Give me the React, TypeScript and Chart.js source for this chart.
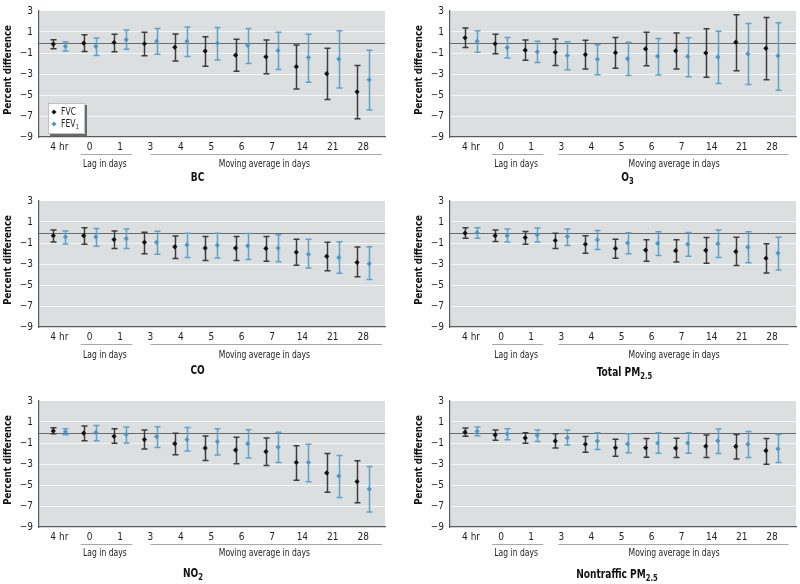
import React, { useEffect, useRef } from "react";
import { Chart, registerables } from "chart.js";
Chart.register(...registerables);

const categories = ["4 hr", "0", "1", "3", "4", "5", "6", "7", "14", "21", "28"];
const yTickValues = [3, 1, -1, -3, -5, -7, -9];
const lagLabel = "Lag in days";
const movingLabel = "Moving average in days";
const yTitle = "Percent difference";
const legendNames = ["FVC", "FEV"];
const legendSub = ["", "1"];

// BC
const bcFvc = [-0.15, -0.06, 0, -0.12, -0.45, -0.82, -1.21, -1.36, -2.3, -2.97, -4.7];
const bcFvcLo = [-0.6, -0.85, -0.88, -1.27, -1.76, -2.27, -2.73, -2.97, -4.42, -5.42, -7.27];
const bcFvcHi = [0.27, 0.73, 0.79, 0.97, 0.82, 0.55, 0.3, 0.24, -0.24, -0.55, -2.18];
const bcFev = [-0.36, -0.36, 0.27, 0.12, 0.12, -0.06, -0.27, -0.76, -1.42, -1.58, -3.55];
const bcFevLo = [-0.82, -1.24, -0.64, -1.12, -1.33, -1.67, -2.0, -2.58, -3.79, -4.33, -6.42];
const bcFevHi = [0.06, 0.42, 1.18, 1.33, 1.48, 1.42, 1.33, 0.97, 0.79, 1.12, -0.73];

// O3
const o3Fvc = [0.45, -0.12, -0.73, -0.94, -1.15, -0.97, -0.61, -0.79, -1.0, 0.03, -0.55];
const o3FvcLo = [-0.48, -1.06, -1.7, -2.18, -2.52, -2.45, -2.21, -2.52, -3.3, -2.7, -3.55];
const o3FvcHi = [1.39, 0.79, 0.24, 0.33, 0.21, 0.48, 0.97, 0.91, 1.3, 2.64, 2.39];
const o3Fev = [0.12, -0.48, -0.88, -1.24, -1.6, -1.55, -1.3, -1.33, -1.39, -1.09, -1.27];
const o3FevLo = [-0.94, -1.48, -1.91, -2.6, -3.06, -3.15, -3.09, -3.27, -3.91, -4.0, -4.55];
const o3FevHi = [1.12, 0.48, 0.12, 0.06, -0.21, 0.03, 0.39, 0.45, 1.06, 1.82, 1.88];

// CO
const coFvc = [-0.3, -0.3, -0.67, -0.94, -1.36, -1.48, -1.48, -1.52, -1.88, -2.27, -2.85];
const coFvcLo = [-0.91, -1.12, -1.52, -2.03, -2.48, -2.67, -2.67, -2.73, -3.12, -3.64, -4.21];
const coFvcHi = [0.24, 0.45, 0.15, 0.03, -0.33, -0.39, -0.39, -0.39, -0.64, -0.94, -1.39];
const coFev = [-0.42, -0.42, -0.58, -0.94, -1.18, -1.21, -1.27, -1.48, -2.06, -2.39, -2.97];
const coFevLo = [-1.09, -1.3, -1.52, -2.06, -2.39, -2.42, -2.58, -2.79, -3.39, -3.88, -4.48];
const coFevHi = [0.15, 0.39, 0.33, 0.12, -0.06, -0.06, -0.09, -0.21, -0.64, -0.88, -1.36];

// Total PM2.5
const pmFvc = [-0.06, -0.3, -0.48, -0.76, -1.12, -1.52, -1.67, -1.73, -1.7, -1.82, -2.45];
const pmFvcLo = [-0.55, -0.85, -1.12, -1.52, -1.97, -2.45, -2.73, -2.82, -2.94, -3.15, -3.85];
const pmFvcHi = [0.45, 0.24, 0.09, -0.06, -0.3, -0.64, -0.7, -0.7, -0.48, -0.45, -1.06];
const pmFev = [0, -0.3, -0.21, -0.39, -0.7, -1.0, -1.03, -1.12, -1.06, -1.39, -1.97];
const pmFevLo = [-0.55, -0.91, -0.91, -1.24, -1.61, -2.03, -2.18, -2.27, -2.39, -2.88, -3.58];
const pmFevHi = [0.45, 0.33, 0.42, 0.33, 0.18, -0.03, 0.06, 0, 0.24, 0.06, -0.45];

// NO2
const no2Fvc = [0.15, -0.06, -0.36, -0.67, -1.06, -1.48, -1.67, -1.82, -2.85, -3.85, -4.67];
const no2FvcLo = [-0.12, -0.79, -1.03, -1.58, -2.12, -2.67, -2.97, -3.15, -4.55, -5.7, -6.7];
const no2FvcHi = [0.45, 0.61, 0.36, 0.24, -0.06, -0.33, -0.45, -0.52, -1.27, -2.0, -2.7];
const no2Fev = [0.06, 0, -0.18, -0.39, -0.67, -0.88, -1.06, -1.39, -2.85, -4.15, -5.39];
const no2FevLo = [-0.21, -0.79, -1.0, -1.42, -1.76, -2.15, -2.42, -2.85, -4.7, -6.18, -7.58];
const no2FevHi = [0.36, 0.67, 0.52, 0.55, 0.48, 0.36, 0.27, 0.03, -1.12, -2.18, -3.24];

// Nontraffic PM2.5
const ntFvc = [0.03, -0.24, -0.52, -0.82, -1.12, -1.45, -1.45, -1.48, -1.3, -1.33, -1.73];
const ntFvcLo = [-0.36, -0.73, -1.03, -1.48, -1.88, -2.27, -2.36, -2.39, -2.39, -2.52, -3.03];
const ntFvcHi = [0.42, 0.24, -0.03, -0.12, -0.39, -0.64, -0.58, -0.55, -0.24, -0.18, -0.58];
const ntFev = [0.12, -0.12, -0.27, -0.52, -0.82, -1.09, -1.0, -1.0, -0.79, -1.12, -1.55];
const ntFevLo = [-0.3, -0.7, -0.85, -1.18, -1.61, -1.94, -1.97, -1.97, -2.0, -2.39, -2.85];
const ntFevHi = [0.52, 0.36, 0.24, 0.24, -0.03, -0.12, -0.03, -0.03, 0.33, 0.09, -0.18];

const FONT = '"Liberation Sans Narrow", "DejaVu Sans Condensed", "Arial Narrow", sans-serif';
const BG = "#dcdfe0";
const BLACK = "#111111";
const BLACK_BAR = "#3c3c3c";
const BLUE = "#4f98c4";
const BLUE_BAR = "#5ea2cb";

type PanelCfg = {
  key: string;
  title: string[];
  fvc: number[]; fvcLo: number[]; fvcHi: number[];
  fev: number[]; fevLo: number[]; fevHi: number[];
  legend: boolean;
  left: number; top: number;
  col: number;
  titleAt: number;
  lineDy: number; groupDy: number; titleDy: number;
};

const panels: PanelCfg[] = [
  { key: "bc", title: ["BC"], fvc: bcFvc, fvcLo: bcFvcLo, fvcHi: bcFvcHi, fev: bcFev, fevLo: bcFevLo, fevHi: bcFevHi, legend: true, left: 0, top: 0, col: 0, titleAt: 4.55, lineDy: 17, groupDy: 27, titleDy: 41 },
  { key: "o3", title: ["O", "3"], fvc: o3Fvc, fvcLo: o3FvcLo, fvcHi: o3FvcHi, fev: o3Fev, fevLo: o3FevLo, fevHi: o3FevHi, legend: false, left: 400, top: 0, col: 1, titleAt: 5.2, lineDy: 17, groupDy: 27, titleDy: 41 },
  { key: "co", title: ["CO"], fvc: coFvc, fvcLo: coFvcLo, fvcHi: coFvcHi, fev: coFev, fevLo: coFevLo, fevHi: coFevHi, legend: false, left: 0, top: 190, col: 0, titleAt: 4.55, lineDy: 17, groupDy: 28, titleDy: 44 },
  { key: "pm", title: ["Total PM", "2.5"], fvc: pmFvc, fvcLo: pmFvcLo, fvcHi: pmFvcHi, fev: pmFev, fevLo: pmFevLo, fevHi: pmFevHi, legend: false, left: 400, top: 190, col: 1, titleAt: 5.1, lineDy: 17, groupDy: 28, titleDy: 46 },
  { key: "no2", title: ["NO", "2"], fvc: no2Fvc, fvcLo: no2FvcLo, fvcHi: no2FvcHi, fev: no2Fev, fevLo: no2FevLo, fevHi: no2FevHi, legend: false, left: 0, top: 390, col: 0, titleAt: 4.4, lineDy: 17, groupDy: 26, titleDy: 47 },
  { key: "nt", title: ["Nontraffic PM", "2.5"], fvc: ntFvc, fvcLo: ntFvcLo, fvcHi: ntFvcHi, fev: ntFev, fevLo: ntFevLo, fevHi: ntFevHi, legend: false, left: 400, top: 390, col: 1, titleAt: 4.85, lineDy: 17, groupDy: 26, titleDy: 48 },
];

const fmtTick = (v: number) => (v < 0 ? "\u2212" + Math.abs(v) : String(v));

function drawDiamond(ctx: CanvasRenderingContext2D, x: number, y: number, r: number, color: string) {
  ctx.beginPath();
  ctx.moveTo(x, y - r);
  ctx.lineTo(x + r, y);
  ctx.lineTo(x, y + r);
  ctx.lineTo(x - r, y);
  ctx.closePath();
  ctx.fillStyle = color;
  ctx.fill();
}

// draws text parts (odd indices are subscripts), horizontally condensed by sx
function drawSubText(
  ctx: CanvasRenderingContext2D,
  parts: string[],
  cx: number,
  cy: number,
  size: number,
  bold: boolean,
  align: "center" | "left",
  sx: number
) {
  const fontOf = (sub: boolean) => `${bold ? "bold " : ""}${sub ? Math.round(size * 0.72) : size}px ${FONT}`;
  const w = (s: string, sub: boolean) => {
    ctx.font = fontOf(sub);
    return ctx.measureText(s).width;
  };
  let total = 0;
  parts.forEach((p, i) => (total += w(p, i % 2 === 1)));
  ctx.save();
  ctx.translate(cx, cy);
  ctx.scale(sx, 1);
  let x = align === "center" ? -total / 2 : 0;
  ctx.textAlign = "left";
  ctx.textBaseline = "middle";
  parts.forEach((p, i) => {
    const sub = i % 2 === 1;
    ctx.font = fontOf(sub);
    const pw = ctx.measureText(p).width;
    ctx.fillText(p, x, sub ? size * 0.32 : 0);
    x += pw;
  });
  ctx.restore();
}

function Panel({ cfg }: { cfg: PanelCfg }) {
  const ref = useRef<HTMLCanvasElement | null>(null);
  useEffect(() => {
    const canvas = ref.current!;
    const xMin = cfg.col === 0 ? -0.67 : -0.7;
    const xMax = cfg.col === 0 ? 10.72 : 10.8;
    const series = [
      { lo: cfg.fvcLo, hi: cfg.fvcHi, off: -0.2, color: BLACK_BAR },
      { lo: cfg.fevLo, hi: cfg.fevHi, off: 0.2, color: BLUE_BAR },
    ];
    const decor = {
      id: "decor" + cfg.key,
      beforeDraw(chart: any) {
        const { ctx, chartArea: a } = chart;
        ctx.save();
        ctx.fillStyle = BG;
        ctx.fillRect(a.left, a.top, a.right - a.left, a.bottom - a.top);
        ctx.restore();
      },
      beforeDatasetsDraw(chart: any) {
        const { ctx, chartArea: a, scales } = chart;
        const xs = scales.x, ys = scales.y;
        ctx.save();
        const y0 = Math.round(ys.getPixelForValue(0)) + 0.5;
        ctx.strokeStyle = "#6a6a6a";
        ctx.lineWidth = 1.2;
        ctx.beginPath();
        ctx.moveTo(a.left, y0);
        ctx.lineTo(a.right, y0);
        ctx.stroke();
        series.forEach((s) => {
          ctx.strokeStyle = s.color;
          ctx.lineWidth = 1.5;
          categories.forEach((_, i) => {
            const px = Math.round(xs.getPixelForValue(i + s.off)) + 0.5;
            const pl = ys.getPixelForValue(s.lo[i]);
            const ph = ys.getPixelForValue(s.hi[i]);
            ctx.beginPath();
            ctx.moveTo(px, pl);
            ctx.lineTo(px, ph);
            ctx.moveTo(px - 3, pl);
            ctx.lineTo(px + 3, pl);
            ctx.moveTo(px - 3, ph);
            ctx.lineTo(px + 3, ph);
            ctx.stroke();
          });
        });
        ctx.restore();
      },
      afterDraw(chart: any) {
        const { ctx, chartArea: a, scales } = chart;
        const xs = scales.x;
        ctx.save();
        // group underlines
        const ly = Math.round(a.bottom + cfg.lineDy) + 0.5;
        ctx.strokeStyle = "#a8a8a8";
        ctx.lineWidth = 1;
        const lagA = 0.7, lagB = 2.4;
        const movA = cfg.col === 0 ? 3.0 : 2.9, movB = cfg.col === 0 ? 10.62 : 10.55;
        ctx.beginPath();
        ctx.moveTo(xs.getPixelForValue(lagA), ly);
        ctx.lineTo(xs.getPixelForValue(lagB), ly);
        ctx.moveTo(xs.getPixelForValue(movA), ly);
        ctx.lineTo(xs.getPixelForValue(movB), ly);
        ctx.stroke();
        ctx.fillStyle = "#222";
        drawSubText(ctx, [lagLabel], xs.getPixelForValue(1.5), a.bottom + cfg.groupDy, 10, false, "center", 0.85);
        drawSubText(ctx, [movingLabel], xs.getPixelForValue(6.75), a.bottom + cfg.groupDy, 10, false, "center", 0.85);
        // title
        ctx.fillStyle = "#111";
        drawSubText(ctx, cfg.title, xs.getPixelForValue(cfg.titleAt), a.bottom + cfg.titleDy, 12, true, "center", 0.84);
        // y title
        ctx.save();
        ctx.translate(a.left - 31, (a.top + a.bottom) / 2 - 4);
        ctx.rotate(-Math.PI / 2);
        ctx.fillStyle = "#111";
        drawSubText(ctx, [yTitle], 0, 0, 11, true, "center", 0.87);
        ctx.restore();
        // legend
        if (cfg.legend) {
          const lx = a.left + 9, lyy = a.top + 92, w = 37, h = 31;
          ctx.fillStyle = "#6a6a6a";
          ctx.fillRect(lx + 2, lyy + 2, w, h);
          ctx.fillStyle = "#ffffff";
          ctx.fillRect(lx, lyy, w, h);
          ctx.strokeStyle = "#9a9a9a";
          ctx.lineWidth = 0.6;
          ctx.strokeRect(lx + 0.5, lyy + 0.5, w - 1, h - 1);
          drawDiamond(ctx, lx + 6, lyy + 9, 2.6, BLACK);
          drawDiamond(ctx, lx + 6, lyy + 21, 2.6, BLUE);
          ctx.fillStyle = "#222";
          drawSubText(ctx, [legendNames[0], legendSub[0]], lx + 13, lyy + 9, 10, false, "left", 0.85);
          drawSubText(ctx, [legendNames[1], legendSub[1]], lx + 13, lyy + 21, 10, false, "left", 0.85);
        }
        ctx.restore();
      },
    };
    const tickFont = { family: FONT, size: 10, lineHeight: 1 };
    const chart = new Chart(canvas, {
      type: "scatter",
      data: {
        datasets: [
          {
            label: legendNames[0],
            data: categories.map((_, i) => ({ x: i - 0.2, y: cfg.fvc[i] })),
            pointStyle: "rectRot",
            pointRadius: 2.6,
            backgroundColor: BLACK,
            borderColor: BLACK,
            borderWidth: 0,
            showLine: false,
          },
          {
            label: legendNames[1] + "1",
            data: categories.map((_, i) => ({ x: i + 0.2, y: cfg.fev[i] })),
            pointStyle: "rectRot",
            pointRadius: 2.6,
            backgroundColor: BLUE,
            borderColor: BLUE,
            borderWidth: 0,
            showLine: false,
          },
        ],
      },
      options: {
        responsive: false,
        animation: false,
        devicePixelRatio: 1,
        layout: { padding: { left: cfg.col === 0 ? 0 : 11, right: cfg.col === 0 ? 15 : 1, top: 5, bottom: 0 } },
        plugins: { legend: { display: false }, tooltip: { enabled: false } },
        scales: {
          x: {
            type: "linear",
            min: xMin,
            max: xMax,
            afterBuildTicks: (s: any) => {
              s.ticks = categories.map((_, i) => ({ value: i }));
            },
            afterFit: (s: any) => {
              s.height = 57;
            },
            ticks: {
              callback: (_v: any, i: number) => categories[i],
              font: tickFont,
              color: "#222",
              padding: 5,
              maxRotation: 0,
              autoSkip: false,
            },
            grid: { display: false, drawTicks: false },
            border: { display: true, color: "#5a5a5a", width: 1.2 },
          },
          y: {
            min: -9,
            max: 3,
            afterBuildTicks: (s: any) => {
              s.ticks = yTickValues.map((v) => ({ value: v }));
            },
            afterFit: (s: any) => {
              s.width = 39;
            },
            ticks: {
              callback: (v: any) => fmtTick(Number(v)),
              font: tickFont,
              color: "#222",
              padding: 6,
            },
            grid: {
              color: (c: any) =>
                c.tick && (c.tick.value === 3 || c.tick.value === -9) ? "rgba(0,0,0,0)" : "#f3f4f4",
              lineWidth: 1,
              drawTicks: false,
            },
            border: { display: true, color: "#5a5a5a", width: 1.2 },
          },
        },
      },
      plugins: [decor],
    } as any);
    return () => chart.destroy();
  }, [cfg]);
  return (
    <canvas
      ref={ref}
      width={400}
      height={194}
      style={{ position: "absolute", left: cfg.left, top: cfg.top, width: 400, height: 194 }}
    />
  );
}

export default function App() {
  return (
    <div style={{ position: "absolute", left: 0, top: 0, width: 800, height: 584, background: "#ffffff", overflow: "hidden" }}>
      {panels.map((p) => (
        <Panel key={p.key} cfg={p} />
      ))}
    </div>
  );
}
